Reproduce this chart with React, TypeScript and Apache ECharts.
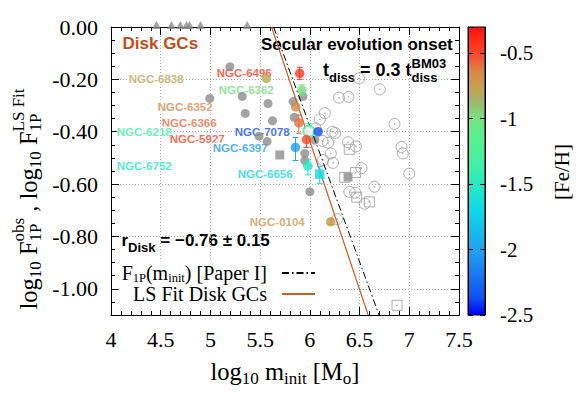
import React, { useEffect, useRef } from 'react';
import * as echarts from 'echarts';

const SERIF = '"Liberation Serif", "Times New Roman", serif';
const SANS = '"Liberation Sans", Arial, sans-serif';

// ---------- data ----------
// other GCs: filled gray circles
const grayCircX = [5.196, 4.993, 5.32, 5.579, 5.35, 5.624, 5.489, 5.57, 5.831, 5.843, 5.93, 6.05, 5.949, 5.949, 6.0];
const grayCircY = [-0.152, -0.273, -0.265, -0.292, -0.33, -0.358, -0.417, -0.437, -0.285, -0.345, -0.265, -0.432, -0.483, -0.51, -0.629];
// filled gray squares
const graySqX = [5.697, 6.384];
const graySqY = [-0.489, -0.573];
// open circles
const openCircX = [6.495, 6.703, 6.293, 6.388, 6.15, 6.1, 6.851, 6.059, 6.225, 6.255, 6.127, 6.183, 6.384, 6.462, 6.922, 6.935, 6.21, 6.133, 6.233, 6.519, 7.0, 6.65, 6.398, 6.457, 6.552, 6.274];
const openCircY = [-0.196, -0.238, -0.27, -0.267, -0.329, -0.353, -0.37, -0.387, -0.4, -0.405, -0.435, -0.442, -0.44, -0.456, -0.458, -0.483, -0.483, -0.508, -0.519, -0.539, -0.56, -0.61, -0.63, -0.633, -0.675, -0.734];
// open squares
const openSqX = [6.396, 6.46, 6.35, 6.472, 6.598, 6.877];
const openSqY = [-0.467, -0.556, -0.574, -0.65, -0.668, -1.063];
// limits drawn at the top edge
const limitX = [4.457, 4.608, 4.698, 4.76, 4.79, 4.9, 5.37];
const limitY = [0.008, 0.008, 0.008, 0.008, 0.008, 0.008, 0.008];

// Disk GCs
const diskNames = ['NGC-6496', 'NGC-6362', 'NGC-6838', 'NGC-6352', 'NGC-6366', 'NGC-6218', 'NGC-5927', 'NGC-7078', 'NGC-6397', 'NGC-6752', 'NGC-6656', 'NGC-0104'];
const diskFeH = [-0.46, -0.99, -0.78, -0.64, -0.59, -1.37, -0.49, -2.37, -2.02, -1.54, -1.7, -0.72];
const diskX = [5.898, 5.92, 5.563, 5.858, 5.889, 5.99, 5.966, 6.083, 5.855, 5.98, 6.1, 6.21];
const diskY = [-0.177, -0.241, -0.196, -0.305, -0.366, -0.398, -0.43, -0.4, -0.46, -0.531, -0.562, -0.744];
const diskErrUp = [0.023, 0.02, 0, 0, 0.03, 0.03, 0.03, 0, 0.038, 0.023, 0.03, 0.01];
const diskErrDown = [0.023, 0.02, 0, 0, 0.04, 0.03, 0.03, 0, 0.05, 0.034, 0.035, 0.01];
const diskMarker = ['circle', 'circle', 'circle', 'circle', 'circle', 'ring', 'circle', 'circle', 'circle', 'circle', 'square', 'circle'];
const labelX = [5.617, 5.637, 4.731, 5.023, 5.063, 4.611, 5.144, 5.798, 5.576, 4.611, 5.827, 5.949];
const labelY = [-0.175, -0.241, -0.2, -0.305, -0.367, -0.4, -0.429, -0.4, -0.461, -0.531, -0.562, -0.744];

// lines
const lsFitX = [5.615, 6.586];
const lsFitY = [0, -1.1];
const paperIX = [5.635, 6.696];
const paperIY = [0, -1.1];

// colour bar
const cbMin = -2.5;
const cbMax = -0.3;
const cmapVals = [-2.5, -2.37, -2.02, -1.7, -1.54, -1.37, -1.15, -0.99, -0.85, -0.75, -0.64, -0.55, -0.45, -0.3];
const cmapCols = ['#0000ff', '#1050f0', '#20a0f0', '#10d8e8', '#20e8c8', '#40f0a8', '#58f090', '#78e080', '#a8b068', '#c8a050', '#d88848', '#f05a38', '#ff3820', '#ff1010'];

// ---------- helpers ----------
function hexRgb(h: string) {
  return [parseInt(h.slice(1, 3), 16), parseInt(h.slice(3, 5), 16), parseInt(h.slice(5, 7), 16)];
}
function fehColor(v: number) {
  if (v <= cmapVals[0]) return cmapCols[0];
  for (let i = 1; i < cmapVals.length; i++) {
    if (v <= cmapVals[i]) {
      const t = (v - cmapVals[i - 1]) / (cmapVals[i] - cmapVals[i - 1]);
      const a = hexRgb(cmapCols[i - 1]);
      const b = hexRgb(cmapCols[i]);
      const c = a.map((x, k) => Math.round(x + (b[k] - x) * t));
      return `rgb(${c[0]},${c[1]},${c[2]})`;
    }
  }
  return cmapCols[cmapCols.length - 1];
}

let mctx: CanvasRenderingContext2D | null = null;
function textWidth(t: string, size: number, family: string, weight: string) {
  if (!mctx) mctx = document.createElement('canvas').getContext('2d');
  mctx!.font = `${weight} ${size}px ${family}`;
  return mctx!.measureText(t).width;
}

type Piece = [string, string, string?];
function mathGroup(pieces: Piece[], o: { family: string; size: number; small: number; weight: string; color: string; subDy: number; supDy: number }) {
  const children: any[] = [];
  let x = 0;
  const mk = (t: string, px: number, dy: number, size: number) => ({
    type: 'text', x: px, y: dy, silent: true,
    style: { text: t, fontSize: size, fontFamily: o.family, fontWeight: o.weight, fill: o.color, align: 'left', verticalAlign: 'middle' },
  });
  const put = (raw: string, dy: number, size: number) => {
    const sw = textWidth(' ', size, o.family, o.weight);
    const lead = raw.length - raw.replace(/^ +/, '').length;
    const trail = raw.length - raw.replace(/ +$/, '').length;
    const t = raw.trim();
    const x0 = x + lead * sw;
    if (t) children.push(mk(t, x0, dy, size));
    return lead * sw + (t ? textWidth(t, size, o.family, o.weight) : 0) + trail * sw;
  };
  for (const p of pieces) {
    if (p[1] === 'n') x += put(p[0], 0, o.size);
    else if (p[1] === 'sub') x += put(p[0], o.subDy, o.small);
    else if (p[1] === 'sup') x += put(p[0], o.supDy, o.small);
    else {
      const save = x;
      const w1 = put(p[0], o.subDy, o.small);
      x = save;
      const w2 = put(p[2] || '', o.supDy, o.small);
      x = save + Math.max(w1, w2);
    }
  }
  return { children, width: x };
}

function buildOption() {
  const grayCirc = grayCircX.map((x, i) => [x, grayCircY[i]]);
  const graySq = graySqX.map((x, i) => [x, graySqY[i]]);
  const openCirc = openCircX.map((x, i) => [x, openCircY[i]]);
  const openSq = openSqX.map((x, i) => [x, openSqY[i]]);
  const limits = limitX.map((x, i) => [x, limitY[i]]);
  const lsFit = lsFitX.map((x, i) => [x, lsFitY[i]]);
  const paperI = paperIX.map((x, i) => [x, paperIY[i]]);

  const diskData = diskNames.map((n, i) => {
    const c = fehColor(diskFeH[i]);
    const m = diskMarker[i];
    return {
      value: [diskX[i], diskY[i]], name: n,
      symbol: m === 'square' ? 'rect' : 'circle',
      symbolSize: m === 'ring' ? 11 : 9.5,
      itemStyle: m === 'ring' ? { color: '#fff', borderColor: c, borderWidth: 2 } : { color: c },
    };
  });
  const errData: number[][] = [];
  diskNames.forEach((n, i) => {
    if (diskErrUp[i] > 0 || diskErrDown[i] > 0) errData.push([diskX[i], diskY[i] - diskErrDown[i], diskY[i] + diskErrUp[i], diskFeH[i]]);
  });
  const labelData = diskNames.map((n, i) => ({ value: [labelX[i], labelY[i]], name: n, label: { color: fehColor(diskFeH[i]) } }));

  const stops: any[] = [];
  for (let i = cmapVals.length - 1; i >= 0; i--) stops.push({ offset: (cbMax - cmapVals[i]) / (cbMax - cbMin), color: cmapCols[i] });

  const axisBlack = { show: true, onZero: false, lineStyle: { color: '#000', width: 1 } };
  const tickIn = { show: true, inside: true, length: 8, lineStyle: { color: '#000' } };
  const grid = { show: true, lineStyle: { color: '#a8a8a8', type: [1, 2], width: 1 } };

  const tdiss = mathGroup([['t', 'n'], ['diss', 'sub'], [' = 0.3 t', 'n'], ['diss', 'stack', 'BM03']], { family: SANS, size: 18, small: 13, weight: 'bold', color: '#000', subDy: 7, supDy: -7 });
  const rdisk = mathGroup([['r', 'n'], ['Disk', 'sub'], [' = \u22120.76 \u00b1 0.15', 'n']], { family: SANS, size: 17, small: 13, weight: 'bold', color: '#000', subDy: 7, supDy: -7 });
  const xl = mathGroup([['log', 'n'], ['10', 'sub'], [' m', 'n'], ['init', 'sub'], [' [M', 'n'], ['o', 'sub'], [']', 'n']], { family: SERIF, size: 24.5, small: 17, weight: 'normal', color: '#000', subDy: 7, supDy: -10 });
  const yl = mathGroup([['log', 'n'], ['10', 'sub'], [' F', 'n'], ['1P', 'stack', 'obs'], [' , ', 'n'], ['log', 'n'], ['10', 'sub'], [' F', 'n'], ['1P', 'stack', 'LS Fit']], { family: SERIF, size: 24.5, small: 17, weight: 'normal', color: '#000', subDy: 7, supDy: -10 });

  return {
    animation: false,
    backgroundColor: '#fff',
    grid: [
      { left: 111, top: 27, width: 348, height: 288 },
      { left: 468, top: 27, width: 17, height: 288 },
    ],
    xAxis: [
      { gridIndex: 0, type: 'value', min: 4, max: 7.5, interval: 0.5, position: 'bottom', axisLine: axisBlack, axisTick: tickIn,
        minorTick: { show: true, splitNumber: 5, length: 4, lineStyle: { color: '#000' } },
        axisLabel: { fontFamily: SERIF, fontSize: 22, color: '#000', margin: 13 }, splitLine: grid },
      { gridIndex: 0, type: 'value', min: 4, max: 7.5, interval: 0.5, position: 'top', axisLine: axisBlack, axisTick: tickIn,
        minorTick: { show: true, splitNumber: 5, length: 4, lineStyle: { color: '#000' } }, axisLabel: { show: false }, splitLine: { show: false } },
      { gridIndex: 1, type: 'value', min: 0, max: 1, show: false },
    ],
    yAxis: [
      { gridIndex: 0, type: 'value', min: -1.1, max: 0, splitNumber: 5, position: 'left', axisLine: axisBlack, axisTick: tickIn,
        minorTick: { show: true, splitNumber: 4, length: 4, lineStyle: { color: '#000' } },
        axisLabel: { fontFamily: SERIF, fontSize: 22, color: '#000', margin: 13, showMinLabel: false, formatter: (v: number) => v.toFixed(2) },
        splitLine: grid },
      { gridIndex: 0, type: 'value', min: -1.1, max: 0, splitNumber: 5, position: 'right', axisLine: axisBlack, axisTick: tickIn,
        minorTick: { show: true, splitNumber: 4, length: 4, lineStyle: { color: '#000' } }, axisLabel: { show: false }, splitLine: { show: false } },
      { gridIndex: 1, type: 'value', min: cbMin, max: cbMax, interval: 0.5, position: 'right', axisLine: axisBlack,
        axisTick: { show: true, inside: true, length: 5, lineStyle: { color: '#000' } },
        axisLabel: { fontFamily: SERIF, fontSize: 21, color: '#000', margin: 15, showMaxLabel: false }, splitLine: { show: false } },
      { gridIndex: 1, type: 'value', min: cbMin, max: cbMax, interval: 0.5, position: 'left', axisLine: axisBlack,
        axisTick: { show: true, inside: true, length: 5, lineStyle: { color: '#000' } }, axisLabel: { show: false }, splitLine: { show: false } },
    ],
    legend: {
      data: ['paperI', 'lsfit'], orient: 'vertical', align: 'right', right: 256, top: 261,
      itemWidth: 33, itemHeight: 10, itemGap: 0, selectedMode: false,
      backgroundColor: '#fff', padding: [2, 14, 6, 3],
      itemStyle: { color: 'rgba(0,0,0,0)', borderColor: 'rgba(0,0,0,0)', borderWidth: 0 },
      formatter: (n: string) => (n === 'paperI' ? '{n|F}{s|1P}{n|(m}{s|init}{n|) [Paper I]}' : '{n|LS Fit Disk GCs}'),
      textStyle: {
        fontFamily: SERIF, fontSize: 20, color: '#000', padding: [0, 10, 0, 0],
        rich: {
          n: { fontFamily: SERIF, fontSize: 20, color: '#000', lineHeight: 22 },
          s: { fontFamily: SERIF, fontSize: 12.5, color: '#000', lineHeight: 11, verticalAlign: 'bottom' },
        },
      },
    },
    series: [
      {
        type: 'scatter', data: labelData, symbolSize: 0.1, itemStyle: { color: 'rgba(0,0,0,0)' }, z: 1, silent: true,
        label: { show: true, position: 'left', distance: 0, formatter: '{b}', fontFamily: SANS, fontWeight: 'bold', fontSize: 11.5, backgroundColor: '#fff', lineHeight: 11 },
      },
      { type: 'scatter', data: grayCirc, symbol: 'circle', symbolSize: 9, itemStyle: { color: '#8c8c8c' }, z: 2 },
      { type: 'scatter', data: graySq, symbol: 'rect', symbolSize: 9, itemStyle: { color: '#8c8c8c' }, z: 2 },
      { type: 'scatter', data: openCirc, symbol: 'circle', symbolSize: 11, itemStyle: { color: 'rgba(255,255,255,0)', borderColor: '#9a9a9a', borderWidth: 1 }, z: 2 },
      { type: 'scatter', data: openSq, symbol: 'rect', symbolSize: 10, itemStyle: { color: 'rgba(255,255,255,0)', borderColor: '#9a9a9a', borderWidth: 1 }, z: 2 },
      { type: 'scatter', data: openCirc.concat(openSq), symbol: 'circle', symbolSize: 1.6, itemStyle: { color: '#9a9a9a' }, z: 2 },
      { type: 'scatter', data: limits, symbol: 'triangle', symbolSize: [9, 8], itemStyle: { color: '#8c8c8c' }, clip: false, z: 2 },
      { type: 'line', name: 'lsfit', data: lsFit, symbol: 'none', lineStyle: { color: '#d05a20', width: 1.2 }, itemStyle: { color: '#d05a20' }, z: 3 },
      { type: 'line', name: 'paperI', data: paperI, symbol: 'none', lineStyle: { color: '#000', width: 1, type: [7, 3, 1.5, 3] }, itemStyle: { color: '#000' }, z: 3 },
      {
        type: 'custom', data: errData, z: 4, silent: true,
        renderItem: (params: any, api: any) => {
          const x = api.value(0);
          const lo = api.coord([x, api.value(1)]);
          const hi = api.coord([x, api.value(2)]);
          const c = fehColor(api.value(3));
          const st = { stroke: c, lineWidth: 1 };
          return {
            type: 'group',
            children: [
              { type: 'line', shape: { x1: lo[0], y1: lo[1], x2: hi[0], y2: hi[1] }, style: st },
              { type: 'line', shape: { x1: lo[0] - 3, y1: lo[1], x2: lo[0] + 3, y2: lo[1] }, style: st },
              { type: 'line', shape: { x1: hi[0] - 3, y1: hi[1], x2: hi[0] + 3, y2: hi[1] }, style: st },
            ],
          };
        },
      },
      { type: 'scatter', data: diskData, z: 5 },
      {
        type: 'custom', xAxisIndex: 2, yAxisIndex: 2, data: [[0, cbMax]], z: -1, silent: true,
        renderItem: (params: any, api: any) => {
          const p0 = api.coord([0, cbMax]);
          const p1 = api.coord([1, cbMin]);
          return {
            type: 'rect',
            shape: { x: p0[0], y: p0[1], width: p1[0] - p0[0], height: p1[1] - p0[1] },
            style: { fill: new echarts.graphic.LinearGradient(0, 0, 0, 1, stops), stroke: '#000', lineWidth: 1 },
          };
        },
      },
    ],
    graphic: {
      elements: [
        { type: 'text', x: 122.5, y: 43, silent: true, style: { text: 'Disk GCs', fontFamily: SANS, fontWeight: 'bold', fontSize: 17, fill: '#c0501a', verticalAlign: 'middle' } },
        { type: 'text', x: 261, y: 44, silent: true, style: { text: 'Secular evolution onset', fontFamily: SANS, fontWeight: 'bold', fontSize: 17, fill: '#000', verticalAlign: 'middle' } },
        { type: 'group', x: 323, y: 70, children: tdiss.children },
        { type: 'group', x: 121.5, y: 240, children: rdisk.children },
        { type: 'group', x: 285 - xl.width / 2, y: 371, children: xl.children },
        { type: 'group', x: 28, y: 199 + yl.width / 2, rotation: Math.PI / 2, children: yl.children },
        { type: 'text', x: 562, y: 172, rotation: Math.PI / 2, silent: true, style: { text: '[Fe/H]', fontFamily: SERIF, fontSize: 21, fill: '#000', align: 'center', verticalAlign: 'middle' } },
      ],
    },
  };
}

export default function App() {
  const ref = useRef<HTMLDivElement>(null);
  useEffect(() => {
    const chart = echarts.init(ref.current!, null, { renderer: 'svg', width: 586, height: 411 });
    chart.setOption(buildOption() as any);
    return () => chart.dispose();
  }, []);
  return <div ref={ref} style={{ position: 'absolute', left: 0, top: 0, width: 586, height: 411 }} />;
}
